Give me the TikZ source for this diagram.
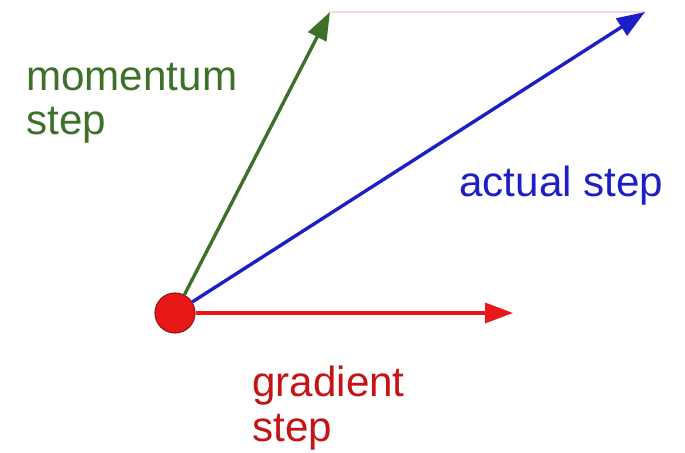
\documentclass[tikz,border=0pt]{standalone}
\usepackage{fontspec}
\setmainfont{Liberation Sans}
\usetikzlibrary{arrows.meta}

\definecolor{momgreen}{RGB}{62,112,42}
\definecolor{actblue}{RGB}{30,30,200}
\definecolor{gradred}{RGB}{232,24,24}
\definecolor{dotedge}{RGB}{150,20,20}
\definecolor{faintpink}{RGB}{242,218,212}

\tikzset{
  vec/.style={line width=2.4pt, -{Triangle[length=0.70cm,width=0.50cm]}},
  lbl/.style={inner sep=0pt, anchor=base west, align=left,
    font=\fontsize{30}{32}\selectfont},
}

\begin{document}
\begin{tikzpicture}
\useasboundingbox (0,0) rectangle (17.125,11.325);
\node[circle, minimum size=1.000cm, inner sep=0pt, fill=gradred,
  draw=dotedge, line width=0.8pt] (dot) at (4.375,3.500) {};
\coordinate (gradtip) at (12.825,3.500);
\coordinate (momtip) at (8.250,11.025);
\coordinate (acttip) at (16.125,11.025);
\draw[faintpink, line width=1.4pt] (momtip) -- (acttip);
\draw[vec, momgreen] (dot) -- (momtip);
\draw[vec, actblue] (dot) -- (acttip);
\draw[vec, gradred] (dot) -- (gradtip);
% base anchor sits on the last line
\node[lbl, text=momgreen] (momlbl) at (0.650,7.950) {momentum\\step};
\node[lbl, text=actblue] (actlbl) at (11.475,6.400) {actual step};
\node[lbl, text=gradred!85!black] (gradlbl) at (6.300,0.285) {gradient\\step};
\end{tikzpicture}
\end{document}
